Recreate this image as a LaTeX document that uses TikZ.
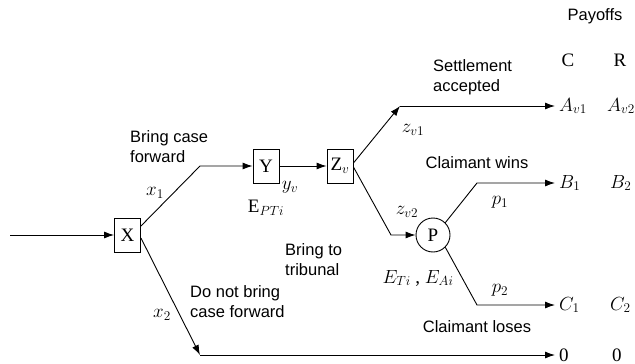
\RequirePackage{fix-cm}
\documentclass[tikz,border=0pt]{standalone}
\usepackage{fontspec}
\setmainfont{Liberation Serif}
\setsansfont{Liberation Sans}
\usetikzlibrary{arrows.meta}
\tikzset{%
  arr/.style = {-{Latex[length=10pt,width=7pt]},line width=0.9pt},
  dec/.style = {rectangle,draw,line width=0.9pt,minimum width=26pt,
        minimum height=34pt,inner sep=2pt,font=\fontsize{19}{21}\selectfont},
  chn/.style = {circle,draw,line width=0.9pt,minimum size=34pt,
        inner sep=0pt,font=\fontsize{19}{21}\selectfont},
  txt/.style = {font=\sffamily\fontsize{16.5}{20}\selectfont,
        align=left,inner sep=0pt},
  var/.style = {font=\fontsize{19}{21}\selectfont,inner sep=0pt},
  pay/.style = {font=\fontsize{19}{21}\selectfont,inner xsep=4pt,
        inner ysep=1pt,anchor=west}
}

\begin{document}
\begin{tikzpicture}[x=1pt,y=-1pt]
\useasboundingbox (0,0) rectangle (635,364);

\node[dec] (X)  at (127.5,235) {X};
\node[dec] (Y)  at (266,166)   {Y};
\node[dec] (Zv) at (340,166)   {Z$_v$};
\node[chn] (P)  at (433,235)   {P};

\coordinate (in) at (10,235);
\coordinate (b1) at (200,166);
\coordinate (b2) at (200,355);
\coordinate (b3) at (400,106);
\coordinate (b4) at (391,235);
\coordinate (b5) at (477,183);
\coordinate (b6) at (477,305);

\node[txt] (pay) at (595,16) {Payoffs};
\node[var] (colC) at (568,60) {C};
\node[var] (colR) at (620,60) {R};
\node[pay] (A1) at (555,106) {$A_{v1}$};
\node[pay,inner xsep=2pt] (A2) at (605,106) {$A_{v2}$};
\node[pay] (B1) at (555,183) {$B_1$};
\node[pay,inner xsep=2pt] (B2) at (608,183) {$B_2$};
\node[pay] (C1) at (555,305) {$C_1$};
\node[pay,inner xsep=2pt] (C2) at (608,305) {$C_2$};
\node[pay] (Z0) at (555,355) {0};
\node[pay,inner xsep=2pt] (Z1) at (610,355) {0};

\draw[arr] (in) -- (X);
\draw[arr] ([yshift=9pt]X.east) -- (b1) -- (Y);
\draw[arr] ([yshift=-3pt]X.east) -- (b2);
\draw[arr] (b2) -- (Z0);
\draw[arr] (Y) -- (Zv);
\draw[arr] ([yshift=3pt]Zv.east) -- (b3);
\draw[arr] (b3) -- (A1);
\draw[arr] ([yshift=-1pt]Zv.east) -- (b4) -- (P);
\draw[arr] (P.north east) -- (b5) -- (B1);
\draw[arr] (P.south east) -- (b6) -- (C1);

\node[txt,anchor=west] (fwd) at (130,147) {Bring case\\forward};
\node[txt,anchor=west] (nofwd) at (190,302) {Do not bring\\case forward};
\node[txt,anchor=west] (trib) at (285,260) {Bring to\\tribunal};
\node[txt,anchor=west] (settle) at (433,77) {Settlement\\accepted};
\node[txt] (wins) at (477,163) {Claimant wins};
\node[txt] (loses) at (477,327) {Claimant loses};

\node[var] (x1) at (155,193) {$x_1$};
\node[var] (x2) at (162,315) {$x_2$};
\node[var] (yv) at (290,187) {$y_v$};
\node[var] (ept) at (266,208) {$\mathrm{E}_{PTi}$};
\node[var] (zv1) at (413,130) {$z_{v1}$};
\node[var] (zv2) at (407,212) {$z_{v2}$};
\node[var] (p1) at (500,202) {$p_1$};
\node[var] (p2) at (500,290) {$p_2$};
\node[var] (eta) at (418,278) {$E_{Ti}$ , $E_{Ai}$};
\end{tikzpicture}
\end{document}
